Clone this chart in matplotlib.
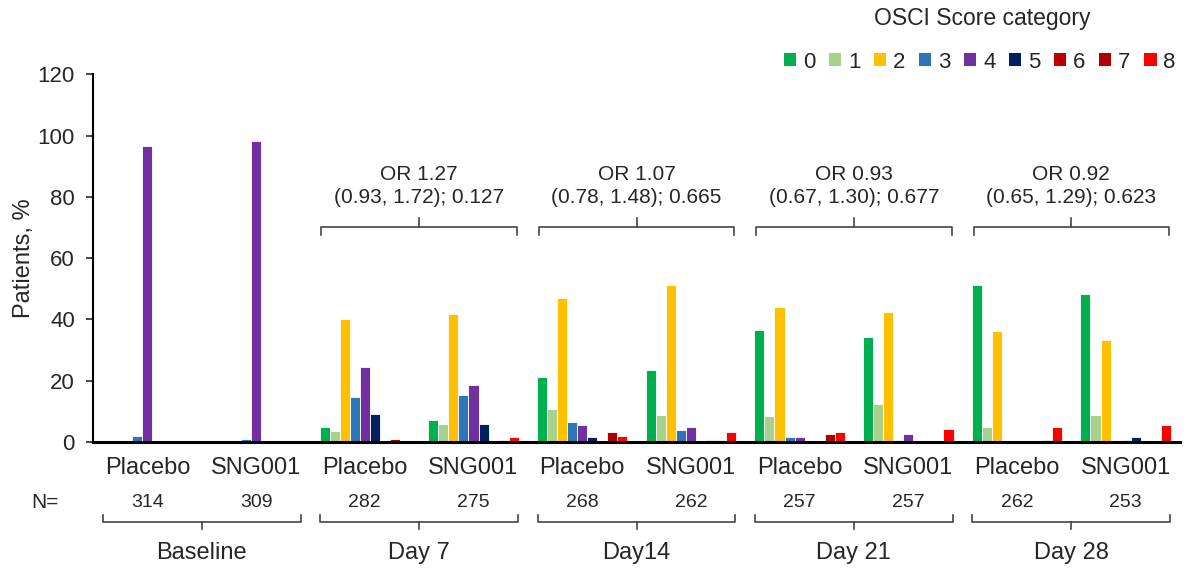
import numpy as np
import matplotlib
matplotlib.use('Agg')
from matplotlib import pyplot as plt
from matplotlib.patches import Patch

plt.rcParams['font.family'] = ['Liberation Sans', 'DejaVu Sans']

# OSCI score categories and their colours
scores = ['0', '1', '2', '3', '4', '5', '6', '7', '8']
colors = ['#00B050', '#A9D18E', '#FFC000', '#2E75B6', '#7030A0',
          '#002060', '#C00000', '#B00000', '#FF0000']

arms = ['Placebo', 'SNG001'] * 5
n_patients = [314, 309, 282, 275, 268, 262, 257, 257, 262, 253]
timepoints = ['Baseline', 'Day 7', 'Day14', 'Day 21', 'Day 28']
odds_ratios = ['OR 1.27\n(0.93, 1.72); 0.127',
               'OR 1.07\n(0.78, 1.48); 0.665',
               'OR 0.93\n(0.67, 1.30); 0.677',
               'OR 0.92\n(0.65, 1.29); 0.623']

# % patients in each score category (rows: timepoint/arm, cols: score 0-8)
baseline_placebo = [0, 0, 0, 2.0, 96.5, 0, 0, 0, 0]
baseline_sng001 = [0, 0, 0, 1.0, 98.4, 0, 0, 0, 0]
day7_placebo = [4.8, 3.7, 40.0, 14.8, 24.6, 9.0, 0, 0.9, 0]
day7_sng001 = [7.2, 6.0, 41.7, 15.2, 18.7, 6.0, 0, 0.8, 1.5]
day14_placebo = [21.1, 10.7, 47.1, 6.6, 5.5, 1.5, 0, 3.2, 2.1]
day14_sng001 = [23.4, 8.9, 51.1, 3.8, 4.9, 0, 0.8, 0.8, 3.2]
day21_placebo = [36.6, 8.5, 44.1, 1.5, 1.5, 0, 0, 2.6, 3.2]
day21_sng001 = [34.3, 12.4, 42.4, 0.8, 2.6, 0, 0, 0, 4.3]
day28_placebo = [51.1, 4.9, 36.1, 0, 0, 0, 0, 0.8, 4.9]
day28_sng001 = [48.2, 8.9, 33.2, 0, 0.8, 1.5, 0, 0, 5.5]

data = np.array([baseline_placebo, baseline_sng001,
                 day7_placebo, day7_sng001,
                 day14_placebo, day14_sng001,
                 day21_placebo, day21_sng001,
                 day28_placebo, day28_sng001])

txt_col = '#262626'

fig = plt.figure(figsize=(11.88, 5.72), dpi=100)
ax = fig.add_axes([0.0783, 0.2273, 0.915, 0.6425])

x = np.arange(len(arms))
slot = 0.0925
for k in range(len(scores)):
    offs = (k - 4) * slot
    ax.bar(x + offs, data[:, k], width=slot, color=colors[k],
           edgecolor='white', linewidth=0.6, zorder=2)

ax.set_xlim(-0.5, len(arms) - 0.5)
ax.set_ylim(0, 120)
ax.set_yticks(np.arange(0, 121, 20))
ax.tick_params(axis='y', direction='out', length=5, width=1.2,
               labelsize=16, colors=txt_col, pad=8)
ax.tick_params(axis='x', length=0)
ax.set_xticks([])
ax.spines['top'].set_visible(False)
ax.spines['right'].set_visible(False)
ax.spines['left'].set_linewidth(1.5)
ax.spines['bottom'].set_linewidth(2.2)
ax.spines['bottom'].set_zorder(3)
ax.set_ylabel('Patients, %', fontsize=17, color=txt_col, labelpad=2)

trans = ax.get_xaxis_transform()

# arm labels and N under each group
for i in x:
    ax.text(i, -0.071, arms[i], transform=trans, ha='center', va='center',
            fontsize=17, color=txt_col)
    ax.text(i, -0.166, str(n_patients[i]), transform=trans, ha='center',
            va='center', fontsize=14, color=txt_col)
fig.text(0.038, (572 - 503) / 572, 'N=', ha='center', va='center',
         fontsize=15, color=txt_col)

# bottom braces joining the two arms of each timepoint
for j, name in enumerate(timepoints):
    left, right = 2 * j - 0.41, 2 * j + 1 + 0.41
    mid = 2 * j + 0.5
    yb, yend, ytip = -0.218, -0.198, -0.238
    ax.plot([left, left, right, right], [yend, yb, yb, yend], transform=trans,
            color='#444444', lw=1.2, clip_on=False)
    ax.plot([mid, mid], [yb, ytip], transform=trans, color='#444444',
            lw=1.2, clip_on=False)
    ax.text(mid, -0.302, name, transform=trans, ha='center', va='center',
            fontsize=17, color=txt_col)

# odds ratio braces above each follow-up timepoint
for j, txt in enumerate(odds_ratios):
    left, right = 2 * (j + 1) - 0.4, 2 * (j + 1) + 1 + 0.4
    mid = 2 * (j + 1) + 0.5
    ax.plot([left, left, right, right], [67.5, 70.1, 70.1, 67.5],
            color='#444444', lw=1.2, clip_on=False)
    ax.plot([mid, mid], [70.1, 73.0], color='#444444', lw=1.2)
    ax.text(mid, 83.5, txt, ha='center', va='center', fontsize=15,
            color=txt_col, linespacing=1.25)

handles = [Patch(facecolor=c, edgecolor='none') for c in colors]
leg = fig.legend(handles, scores, ncol=9, loc='center right',
                 bbox_to_anchor=(0.997, (572 - 62) / 572), frameon=False,
                 fontsize=16, handlelength=0.55, handleheight=0.55,
                 handletextpad=0.3, columnspacing=0.62, borderaxespad=0)
for t in leg.get_texts():
    t.set_color(txt_col)
fig.text(0.827, (572 - 18) / 572, 'OSCI Score category', ha='center',
         va='center', fontsize=16.5, color=txt_col)

fig.savefig('out.png', dpi=100)
